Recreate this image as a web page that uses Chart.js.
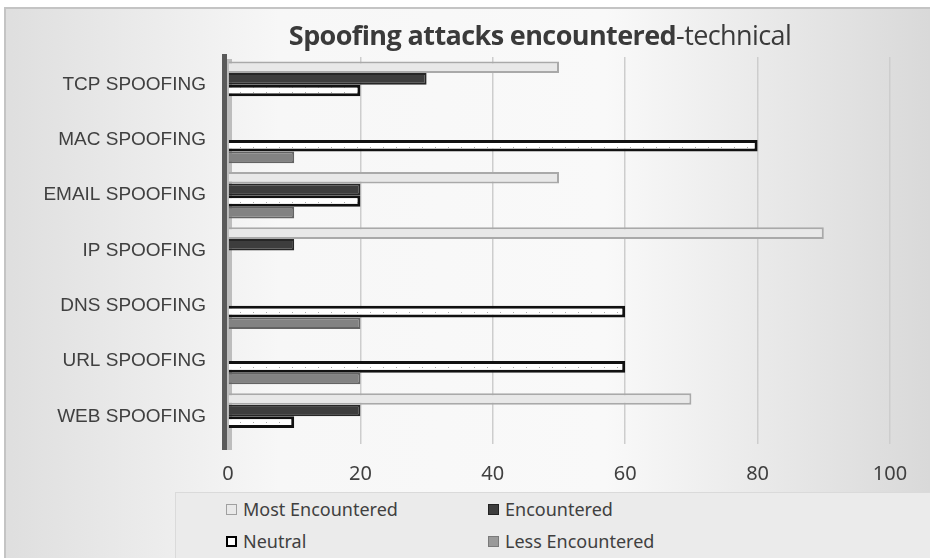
<!DOCTYPE html>
<html lang="en">
<head>
    <meta charset="UTF-8">
    <title>Spoofing attacks encountered-technical</title>
    <style>
        body { margin: 0; padding: 0; background: #fff; }
        .wrap { position: relative; width: 930px; height: 558px; overflow: hidden; }
        .title {
            position: absolute; left: 0; width: 1080px; top: 16px;
            text-align: center; font-family: 'Open Sans', sans-serif;
            font-size: 27px; color: #3a3a3a; letter-spacing: -0.6px;
        }
        .title b { font-weight: 700; }
        .legend {
            position: absolute; left: 175px; top: 492px; width: 755px; height: 66px;
            background: #ebebeb; border-top: 1px solid #dadada; border-left: 1px solid #dadada;
            font-family: 'Noto Sans', sans-serif; font-size: 18px; color: #404040;
        }
        .item { position: absolute; display: flex; align-items: center; height: 24px; }
        .box { width: 11px; height: 11px; margin-right: 6px; box-sizing: border-box; }
    </style>
</head>
<body>
<div class="wrap">
    <canvas id="c" width="930" height="558"></canvas>
    <div class="title"><b>Spoofing attacks encountered</b>-technical</div>
    <div class="legend" id="legend"></div>
</div>
<script src="https://cdn.jsdelivr.net/npm/chart.js"></script>
<script>
// data
const categories = ['TCP SPOOFING', 'MAC SPOOFING', 'EMAIL SPOOFING', 'IP SPOOFING', 'DNS SPOOFING', 'URL SPOOFING', 'WEB SPOOFING'];
const seriesNames = ['Most Encountered', 'Encountered', 'Neutral', 'Less Encountered'];
const mostEncountered = [50, 0, 50, 90, 0, 0, 70];
const encountered     = [30, 0, 20, 10, 0, 0, 20];
const neutral         = [20, 80, 20, 0, 60, 60, 10];
const lessEncountered = [0, 10, 10, 0, 20, 20, 0];
const xTicks = [0, 20, 40, 60, 80, 100];

// dotted white fill for Neutral
const dotCanvas = document.createElement('canvas');
dotCanvas.width = 13; dotCanvas.height = 5;
const dctx = dotCanvas.getContext('2d');
dctx.fillStyle = '#fff'; dctx.fillRect(0, 0, 13, 5);
dctx.fillStyle = '#aaa'; dctx.fillRect(6, 2, 1, 1);
const ctx = document.getElementById('c').getContext('2d');
const dotPattern = ctx.createPattern(dotCanvas, 'repeat');

const noZero = (w) => (c) => (c.raw === 0 ? 0 : w);

const bgPlugin = {
    id: 'bg',
    beforeDraw(chart) {
        const g = chart.ctx;
        const grad = g.createLinearGradient(0, 0, 930, 0);
        grad.addColorStop(0, '#dedede');
        grad.addColorStop(0.3, '#f7f7f7');
        grad.addColorStop(0.65, '#f9f9f9');
        grad.addColorStop(1, '#d9d9d9');
        g.save();
        g.fillStyle = '#fff';
        g.fillRect(0, 0, 930, 558);
        g.fillStyle = grad;
        g.fillRect(5, 8, 925, 550);
        g.strokeStyle = '#c4c4c4';
        g.lineWidth = 2;
        g.strokeRect(5, 8, 926, 552);
        g.restore();
    },
    beforeDatasetsDraw(chart) {
        // 3D style wall at the zero line
        const g = chart.ctx, a = chart.chartArea;
        g.save();
        g.fillStyle = '#5a5a5a';
        g.fillRect(a.left - 6, a.top - 3, 5, a.bottom - a.top + 9);
        g.fillStyle = '#bdbdbd';
        g.fillRect(a.left - 1, a.top + 2, 5, a.bottom - a.top + 4);
        g.restore();
    }
};

const chart = new Chart(ctx, {
    type: 'bar',
    data: {
        labels: categories,
        datasets: [
            { label: seriesNames[0], data: mostEncountered, backgroundColor: '#e8e8e8', borderColor: '#a9a9a9', borderWidth: noZero(2) },
            { label: seriesNames[1], data: encountered, backgroundColor: '#3d3d3d', borderColor: '#262626', borderWidth: noZero(2) },
            { label: seriesNames[2], data: neutral, backgroundColor: dotPattern, borderColor: '#111', borderWidth: noZero(3) },
            { label: seriesNames[3], data: lessEncountered, backgroundColor: '#828282', borderColor: '#636363', borderWidth: noZero(2) }
        ]
    },
    options: {
        indexAxis: 'y',
        responsive: false,
        animation: false,
        layout: { padding: { top: 57, right: 40, bottom: 70, left: 0 } },
        datasets: { bar: { categoryPercentage: 0.84, barPercentage: 1, borderSkipped: 'start' } },
        plugins: { legend: { display: false }, title: { display: false }, tooltip: { enabled: false } },
        scales: {
            x: {
                min: 0, max: 100,
                afterBuildTicks: (s) => { s.ticks = xTicks.map(v => ({ value: v })); },
                afterFit: (s) => { s.height = 44; },
                grid: { drawTicks: false, lineWidth: 1.5, color: (c) => (c.tick && c.tick.value === 0 ? 'rgba(0,0,0,0)' : '#cdcdcd') },
                border: { display: false },
                ticks: { padding: 18, color: '#404040', font: { family: 'Noto Sans', size: 20 } }
            },
            y: {
                afterFit: (s) => { s.width = 228; },
                grid: { display: false, drawTicks: false },
                border: { display: false },
                ticks: { padding: 22, color: '#404040', font: { family: 'Liberation Sans', size: 19 } }
            }
        }
    },
    plugins: [bgPlugin]
});

// legend in two columns
const legendEl = document.getElementById('legend');
const boxStyles = [
    'background:#e9e9e9;border:1.5px solid #a0a0a0',
    'background:#3d3d3d;border:1.5px solid #222',
    'background:#fff;border:2.5px solid #000',
    'background:#9a9a9a;border:1.5px solid #7a7a7a'
];
const pos = [[50, 4], [312, 4], [50, 36], [312, 36]];
seriesNames.forEach((name, i) => {
    const it = document.createElement('div');
    it.className = 'item';
    it.style.left = pos[i][0] + 'px';
    it.style.top = pos[i][1] + 'px';
    it.innerHTML = '<span class="box" style="' + boxStyles[i] + '"></span><span>' + name + '</span>';
    legendEl.appendChild(it);
});
</script>
</body>
</html>
